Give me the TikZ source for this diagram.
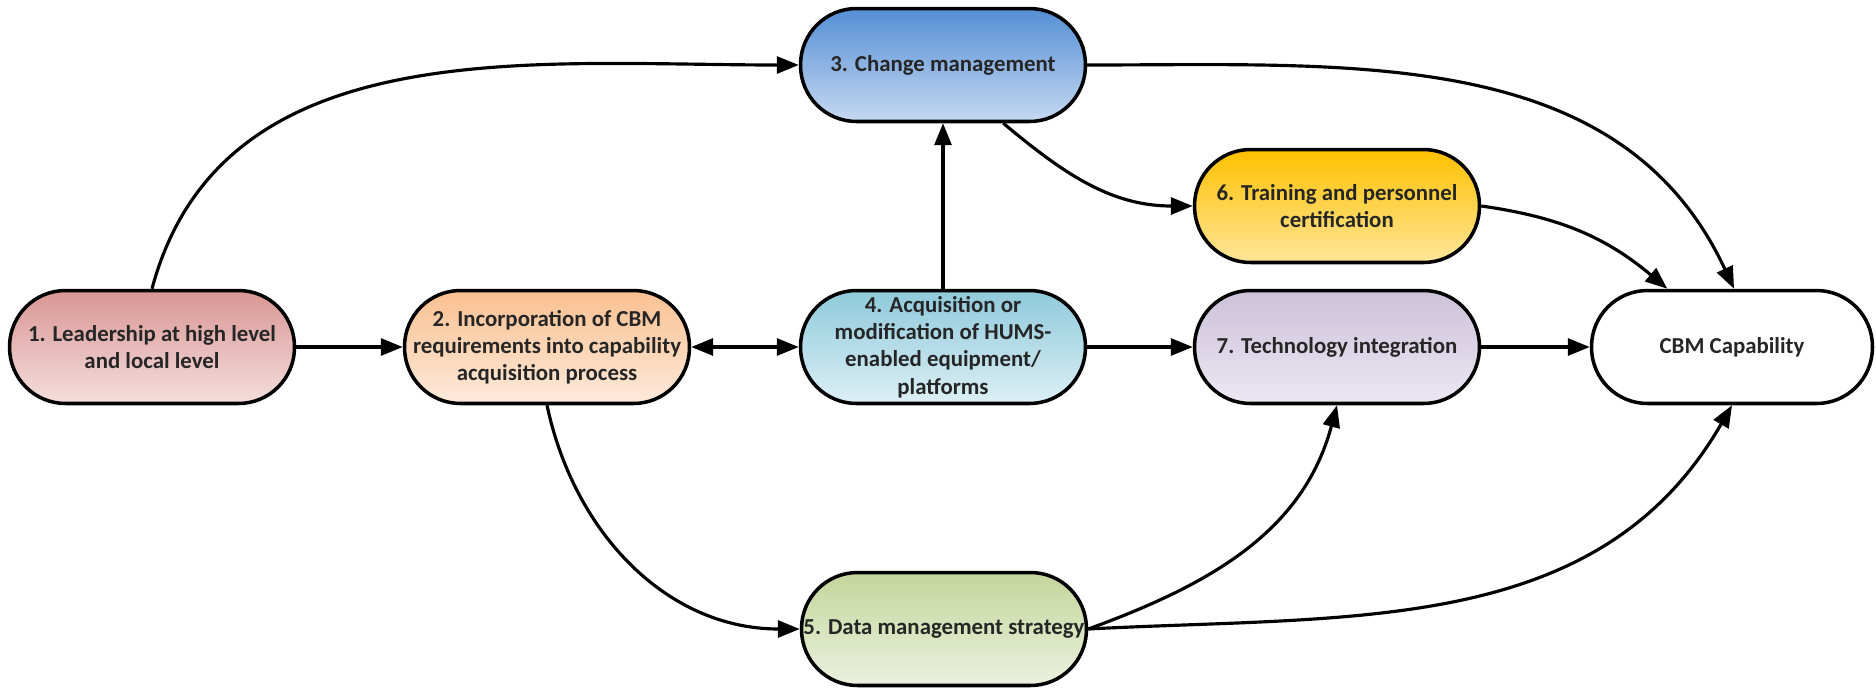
\documentclass[tikz,border=0pt]{standalone}
\usepackage{fontspec}
\setmainfont{Carlito}
\usetikzlibrary{arrows.meta}

\definecolor{leadtop}{HTML}{D99694}
\definecolor{leadbot}{HTML}{F4DEDD}
\definecolor{inctop}{HTML}{FAC090}
\definecolor{incbot}{HTML}{FDEADB}
\definecolor{chgtop}{HTML}{558ED5}
\definecolor{chgbot}{HTML}{C6D9F1}
\definecolor{acqtop}{HTML}{8FCADB}
\definecolor{acqbot}{HTML}{DCEFF5}
\definecolor{datatop}{HTML}{C3D69B}
\definecolor{databot}{HTML}{EBF1DE}
\definecolor{traintop}{HTML}{FFC000}
\definecolor{trainbot}{HTML}{FFE699}
\definecolor{techtop}{HTML}{CCC1DA}
\definecolor{techbot}{HTML}{ECE8F2}

\tikzset{
	stage/.style={draw=black, line width=2pt, rounded corners=1.12cm,
		minimum width=5.7cm, minimum height=2.26cm, inner sep=0pt,
		align=center, text=black!85,
		font=\fontsize{13}{15.5}\selectfont\bfseries},
	flow/.style={line width=1.8pt, -{Triangle[length=0.44cm,width=0.34cm]}},
	twoway/.style={line width=1.8pt, {Triangle[length=0.44cm,width=0.34cm]}-{Triangle[length=0.44cm,width=0.34cm]}},
}

\begin{document}
\begin{tikzpicture}[x=0.02cm, y=-0.02cm]
	\useasboundingbox (0,0) rectangle (1876,687);

	%stages
	\node[stage, top color=leadtop, bottom color=leadbot] (lead) at (152,347) {1. Leadership at high level\\and local level};
	\node[stage, top color=inctop, bottom color=incbot] (incorp) at (547,347) {2. Incorporation of CBM\\requirements into capability\\acquisition process};
	\node[stage, top color=chgtop, bottom color=chgbot] (change) at (943,65) {3. Change management};
	\node[stage, top color=acqtop, bottom color=acqbot] (acquis) at (943,347) {4. Acquisition or\\modification of HUMS-\\enabled equipment/\\platforms};
	\node[stage, top color=datatop, bottom color=databot] (data) at (944,629) {5. Data management strategy};
	\node[stage, top color=traintop, bottom color=trainbot] (train) at (1337,206) {6. Training and personnel\\certification};
	\node[stage, top color=techtop, bottom color=techbot] (tech) at (1337,347) {7. Technology integration};
	\node[stage, fill=white, minimum width=5.62cm] (cbm) at (1732,347) {CBM Capability};

	%straight links
	\draw[flow] (lead) -- (incorp);
	\draw[twoway] (incorp) -- (acquis);
	\draw[flow] (acquis) -- (change);
	\draw[flow] (acquis) -- (tech);
	\draw[flow] (tech) -- (cbm);

	%curved links
	\draw[flow] (lead.north) to[out=75, in=180] (change.west);
	\draw[flow] (change.-44) to[out=-40, in=180] (train.west);
	\draw[flow] (change.east) to[out=0, in=115] (cbm.88);
	\draw[flow] (train.east) to[out=-8, in=140] (cbm.138);
	\draw[flow] (incorp.south) to[out=-78, in=180] (data.west);
	\draw[flow] (data.east) to[out=20, in=-105] (tech.south);
	\draw[flow] (data.east) to[out=3, in=-120] (cbm.south);
\end{tikzpicture}
\end{document}
